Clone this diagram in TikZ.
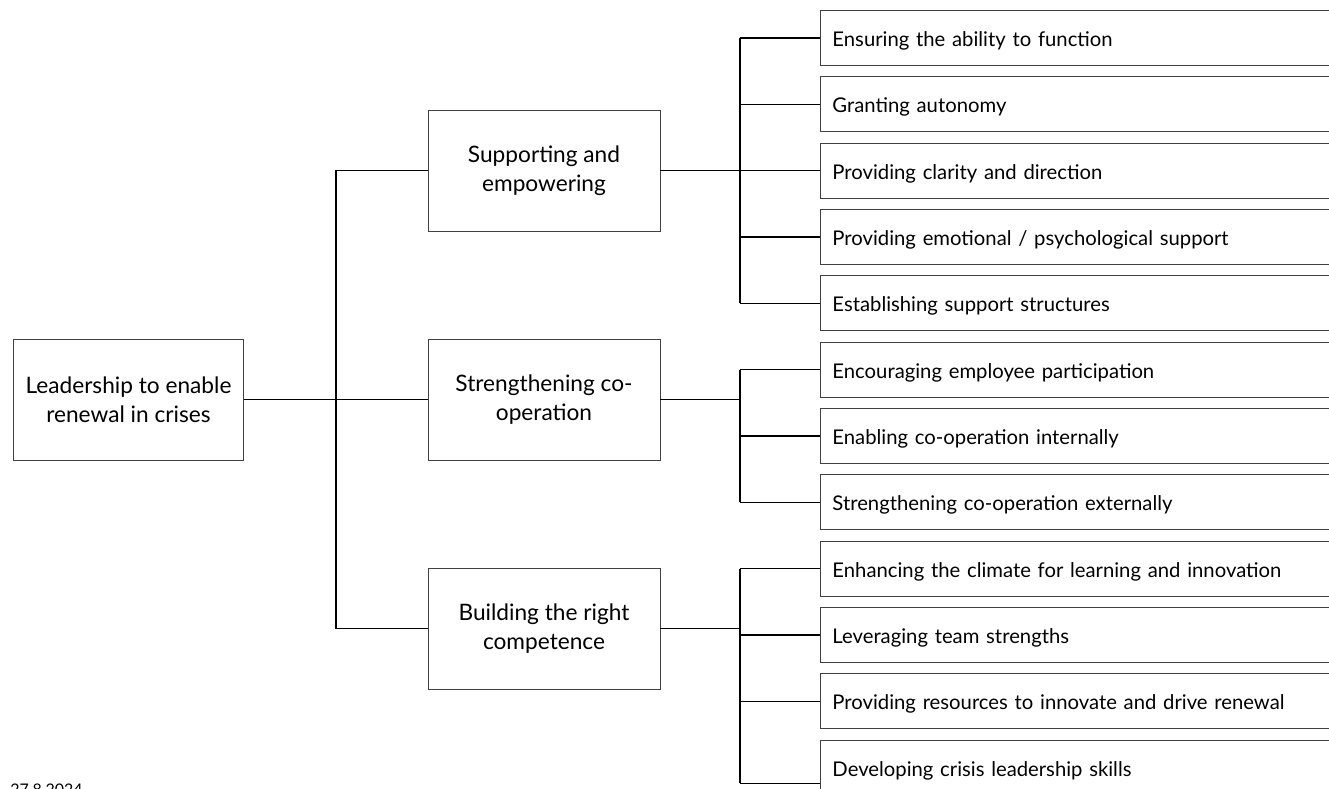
\documentclass[tikz,border=0pt]{standalone}
\usepackage{fontspec}
\setmainfont{Lato}
\usepackage{tikz}
\usetikzlibrary{positioning,calc}

\begin{document}
\begin{tikzpicture}[x=0.75pt,y=-0.75pt,
  rootbox/.style={draw=black!75,line width=0.7pt,align=center,font=\fontsize{17}{22}\selectfont,
                  minimum width=173pt,minimum height=90.75pt,inner sep=2pt},
  catbox/.style={rootbox,minimum width=174pt},
  leafbox/.style={draw=black!75,line width=0.7pt,anchor=north west,font=\fontsize{15.2}{18}\selectfont,
                  minimum width=390pt,minimum height=41.25pt,text width=372pt,inner xsep=9pt,
                  text height=13pt,text depth=0.2pt,align=left},
  link/.style={draw=black,line width=0.8pt},
  datelab/.style={font=\fontsize{12}{14}\selectfont,anchor=base west,inner sep=0pt}]

  \useasboundingbox (0,0) rectangle (1329,789);
  \clip (0,0) rectangle (1329,789);

  % ---------- root and categories ----------
  \node[rootbox] (root) at (128.5,399.5) {Leadership to enable\\renewal in crises};
  \node[catbox] (sup) at (544,170.5) {Supporting and\\empowering};
  \node[catbox] (coop) at (544,399.5) {Strengthening co-\\operation};
  \node[catbox] (comp) at (544,628.5) {Building the right\\competence};

  % ---------- leaves ----------
  \node[leafbox] (l1) at (820,10) {Ensuring the ability to function};
  \node[leafbox,below=7.8pt of l1.south west,anchor=north west] (l2) {Granting autonomy};
  \node[leafbox,below=7.8pt of l2.south west,anchor=north west] (l3) {Providing clarity and direction};
  \node[leafbox,below=7.8pt of l3.south west,anchor=north west] (l4) {Providing emotional / psychological support};
  \node[leafbox,below=7.8pt of l4.south west,anchor=north west] (l5) {Establishing support structures};
  \node[leafbox,below=7.8pt of l5.south west,anchor=north west] (l6) {Encouraging employee participation};
  \node[leafbox,below=7.8pt of l6.south west,anchor=north west] (l7) {Enabling co-operation internally};
  \node[leafbox,below=7.8pt of l7.south west,anchor=north west] (l8) {Strengthening co-operation externally};
  \node[leafbox,below=7.8pt of l8.south west,anchor=north west] (l9) {Enhancing the climate for learning and innovation};
  \node[leafbox,below=7.8pt of l9.south west,anchor=north west] (l10) {Leveraging team strengths};
  \node[leafbox,below=7.8pt of l10.south west,anchor=north west] (l11) {Providing resources to innovate and drive renewal};
  \node[leafbox,below=7.8pt of l11.south west,anchor=north west,minimum height=64.5pt,text depth=23.5pt] (l12) {Developing crisis leadership skills};

  \node[datelab] (date) at (10,795.5) {27.8.2024};

  % ---------- connectors ----------
  \coordinate (trunk) at (336,0);
  \coordinate (bus) at (740,0);
  \draw[link] (root) -- (coop);
  \draw[link] (sup.west) -- (sup.west -| trunk) -- (comp.west -| trunk) -- (comp.west);

  \draw[link] (sup.east) -- (sup.east -| bus);
  \draw[link] (l1.west -| bus) -- (l5.west -| bus);
  \draw[link] (coop.east) -- (coop.east -| bus);
  \draw[link] (l6.west -| bus) -- (l8.west -| bus);
  \draw[link] (comp.east) -- (comp.east -| bus);
  \draw[link] (l9.west -| bus) -- (l12.west -| bus);
  \foreach \i in {1,...,12}
    \draw[link] (l\i.west) -- (l\i.west -| bus);
\end{tikzpicture}
\end{document}
